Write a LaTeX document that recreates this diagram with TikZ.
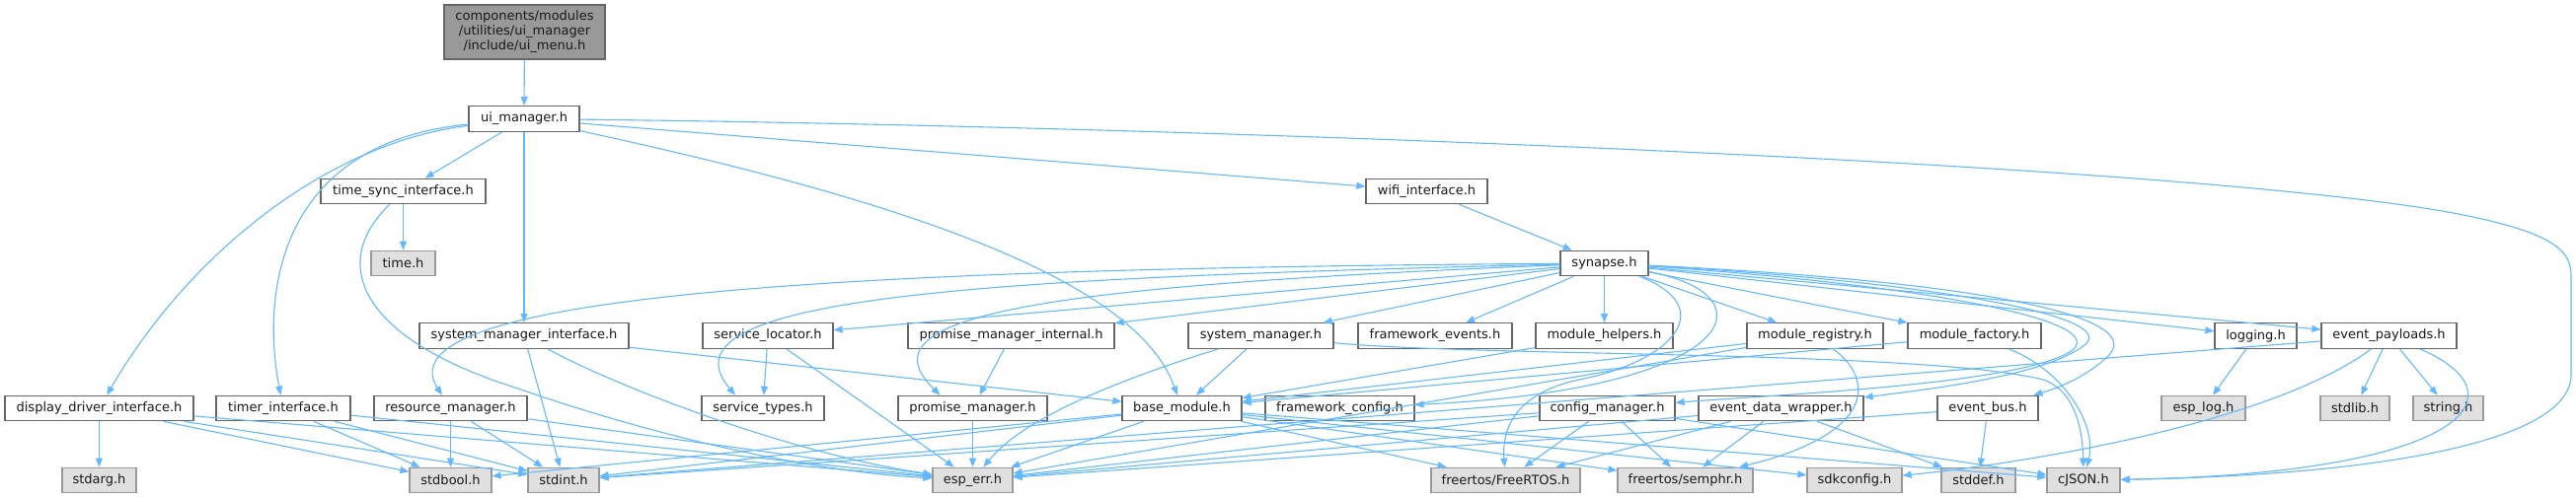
\documentclass[tikz,border=0pt]{standalone}
\usepackage{fontspec}
\setmainfont{DejaVu Sans}
\usetikzlibrary{arrows.meta}
\definecolor{edgeblue}{HTML}{63B8FF}
\definecolor{bordergray}{HTML}{666666}
\definecolor{extborder}{HTML}{999999}
\definecolor{extfill}{HTML}{E0E0E0}
\definecolor{rootfill}{HTML}{999999}
\tikzset{
  nd/.style={draw=bordergray, fill=white, line width=1.2pt, minimum height=25.5pt, inner sep=0pt, font=\fontsize{13}{15}\selectfont, text=black!90},
  ext/.style={nd, draw=extborder, fill=extfill},
  rootnode/.style={nd, fill=rootfill, align=center, minimum height=55pt},
  e/.style={draw=edgeblue, line width=1.1pt, -{Triangle[length=9pt,width=7pt]}}
}
\begin{document}
\begin{tikzpicture}[x=1pt,y=-1pt]
\useasboundingbox (0,0) rectangle (2610,505);
% nodes
\node[rootnode, minimum width=163pt] (root) at (531.5,32.5) {components/modules\\/utilities/ui\_manager\\/include/ui\_menu.h};
\node[nd, minimum width=112pt] (uim) at (531,120.5) {ui\_manager.h};
\node[nd, minimum width=167pt] (tsync) at (408.5,194) {time\_sync\_interface.h};
\node[nd, minimum width=123pt] (wifi) at (1445.5,194) {wifi\_interface.h};
\node[ext, minimum width=65pt] (timeh) at (408.5,267) {time.h};
\node[nd, minimum width=89pt] (syn) at (1625.5,267) {synapse.h};
\node[nd, minimum width=212pt] (smi) at (531,340.5) {system\_manager\_interface.h};
\node[nd, minimum width=132pt] (sloc) at (778,340.5) {service\_locator.h};
\node[nd, minimum width=209pt] (pmi) at (1024.5,340.5) {promise\_manager\_internal.h};
\node[nd, minimum width=147pt] (sm) at (1277.5,340.5) {system\_manager.h};
\node[nd, minimum width=156pt] (fev) at (1454,340.5) {framework\_events.h};
\node[nd, minimum width=139pt] (mh) at (1625.5,340.5) {module\_helpers.h};
\node[nd, minimum width=138pt] (mreg) at (1839,340.5) {module\_registry.h};
\node[nd, minimum width=135pt] (mfac) at (2000.5,340.5) {module\_factory.h};
\node[nd, minimum width=83pt] (logg) at (2285.5,340.5) {logging.h};
\node[nd, minimum width=137pt] (evp) at (2420.5,340.5) {event\_payloads.h};
\node[nd, minimum width=191pt] (ddi) at (100.5,414) {display\_driver\_interface.h};
\node[nd, minimum width=136pt] (tmi) at (287,414) {timer\_interface.h};
\node[nd, minimum width=155pt] (rm) at (456.5,414) {resource\_manager.h};
\node[nd, minimum width=124pt] (st) at (773,414) {service\_types.h};
\node[nd, minimum width=151pt] (pm) at (985.5,414) {promise\_manager.h};
\node[nd, minimum width=121pt] (bm) at (1197.5,414) {base\_module.h};
\node[nd, minimum width=151pt] (fcfg) at (1357.5,414) {framework\_config.h};
\node[nd, minimum width=137pt] (cm) at (1628.5,414) {config\_manager.h};
\node[nd, minimum width=167pt] (edw) at (1804.5,414) {event\_data\_wrapper.h};
\node[nd, minimum width=102pt] (eb) at (2014,414) {event\_bus.h};
\node[ext, minimum width=85pt] (elog) at (2232.5,414) {esp\_log.h};
\node[ext, minimum width=70pt] (stdlib) at (2386,414) {stdlib.h};
\node[ext, minimum width=71pt] (string) at (2480.5,414) {string.h};
\node[ext, minimum width=75pt] (stdarg) at (100.5,487) {stdarg.h};
\node[ext, minimum width=83pt] (stdbool) at (456.5,487) {stdbool.h};
\node[ext, minimum width=72pt] (stdint) at (571,487) {stdint.h};
\node[ext, minimum width=81pt] (esperr) at (985.5,487) {esp\_err.h};
\node[ext, minimum width=151pt] (frtos) at (1525.5,487) {freertos/FreeRTOS.h};
\node[ext, minimum width=137pt] (semphr) at (1707.5,487) {freertos/semphr.h};
\node[ext, minimum width=96pt] (sdk) at (1879,487) {sdkconfig.h};
\node[ext, minimum width=75pt] (stddef) at (2004.5,487) {stddef.h};
\node[ext, minimum width=74pt] (cjson) at (2111,487) {cJSON.h};
% edges
\draw[e] (root) -- (uim);
\draw[e] (uim) -- (tsync);
\draw[e] (uim) .. controls (330,145) and (190,260) .. (ddi);
\draw[e] (uim) .. controls (280,145) and (265,300) .. (tmi);
\draw[e] (uim) -- (smi);
\draw[e] (uim) .. controls (900,200) and (1150,280) .. (bm);
\draw[e] (uim) -- (wifi);
\draw[e] (uim) .. controls (1200,128) and (2200,165) .. (2480,215) .. controls (2590,235) and (2605,255) .. (2605,280) -- (2605,380) .. controls (2605,450) and (2400,482) .. (cjson);
\draw[e] (tsync) -- (timeh);
\draw[e] (tsync) .. controls (330,270) and (370,345) .. (522,393) .. controls (700,455) and (850,480) .. (esperr);
\draw[e] (wifi) -- (syn);
\draw[e] (smi) -- (stdint);
\draw[e] (smi) .. controls (620,390) and (800,460) .. (esperr);
\draw[e] (smi) -- (bm);
\draw[e] (ddi) -- (stdarg);
\draw[e] (ddi) -- (stdbool);
\draw[e] (ddi) -- (stdint);
\draw[e] (ddi) -- (esperr);
\draw[e] (tmi) -- (stdbool);
\draw[e] (tmi) -- (stdint);
\draw[e] (tmi) -- (esperr);
\draw[e] (rm) -- (stdbool);
\draw[e] (rm) -- (stdint);
\draw[e] (rm) -- (esperr);
\draw[e] (sloc) -- (st);
\draw[e] (sloc) -- (esperr);
\draw[e] (pmi) -- (pm);
\draw[e] (pm) -- (esperr);
\draw[e] (sm) -- (bm);
\draw[e] (sm) .. controls (1150,380) and (1040,420) .. (esperr);
\draw[e] (sm) .. controls (1500,362) and (1950,355) .. (2070,385) .. controls (2100,395) and (2110,430) .. (cjson);
\draw[e] (bm) -- (esperr);
\draw[e] (bm) -- (stdbool);
\draw[e] (bm) -- (stdint);
\draw[e] (bm) -- (frtos);
\draw[e] (bm) -- (semphr);
\draw[e] (bm) -- (sdk);
\draw[e] (bm) -- (cjson);
% synapse
\draw[e] (syn) -- (sloc);
\draw[e] (syn) -- (pmi);
\draw[e] (syn) -- (sm);
\draw[e] (syn) -- (fev);
\draw[e] (syn) -- (mh);
\draw[e] (syn) -- (mreg);
\draw[e] (syn) -- (mfac);
\draw[e] (syn) -- (logg);
\draw[e] (syn) -- (evp);
\draw[e] (syn) .. controls (900,272) and (380,295) .. (rm);
\draw[e] (syn) .. controls (1000,282) and (660,300) .. ([xshift=-28pt]st.north);
\draw[e] (syn) .. controls (1050,290) and (870,320) .. ([xshift=-33pt]pm.north);
\draw[e] (syn) .. controls (1900,285) and (2140,320) .. (2100,355) .. controls (2050,390) and (1800,400) .. (cm);
\draw[e] (syn) .. controls (1950,285) and (2150,320) .. (2112,350) .. controls (2070,382) and (1950,395) .. (edw);
\draw[e] (syn) .. controls (2000,285) and (2180,320) .. (2135,362) .. controls (2110,385) and (2080,395) .. (eb);
\draw[e] (syn) .. controls (1800,300) and (1760,395) .. (fcfg);
\draw[e] (syn) .. controls (1740,310) and (1700,365) .. (1600,385) .. controls (1530,400) and (1522,440) .. (frtos);
\draw[e] (mh) -- (bm);
\draw[e] (mreg) -- (bm);
\draw[e] (mreg) -- (esperr);
\draw[e] (mreg) .. controls (1900,385) and (1900,440) .. (semphr);
\draw[e] (mfac) -- (bm);
\draw[e] (mfac) .. controls (2090,375) and (2125,430) .. (cjson);
\draw[e] (cm) -- (esperr);
\draw[e] (cm) -- (stdint);
\draw[e] (cm) -- (frtos);
\draw[e] (cm) -- (semphr);
\draw[e] (cm) -- (cjson);
\draw[e] (edw) -- (esperr);
\draw[e] (edw) -- (frtos);
\draw[e] (edw) -- (semphr);
\draw[e] (edw) -- (stddef);
\draw[e] (eb) -- (stddef);
\draw[e] (eb) -- (esperr);
\draw[e] (logg) -- (elog);
\draw[e] (evp) -- (stdlib);
\draw[e] (evp) -- (string);
\draw[e] (evp) .. controls (2300,430) and (2050,470) .. (sdk);
\draw[e] (evp) .. controls (2560,400) and (2500,480) .. (cjson);
\draw[e] (evp) -- (stdint);
\end{tikzpicture}
\end{document}
